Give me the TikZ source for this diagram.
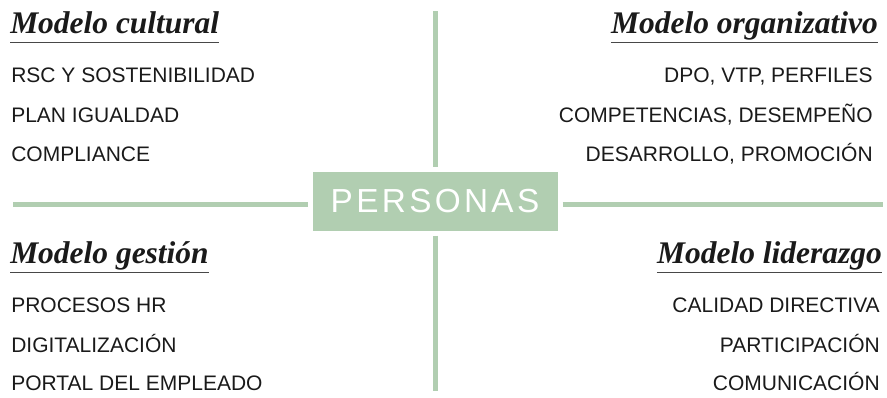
\documentclass[tikz,border=0pt]{standalone}
\usepackage{fontspec}
\setmainfont{Liberation Sans}
\newfontfamily\titlefont{Liberation Serif}
\newfontfamily\boxfont[LetterSpace=10]{Liberation Sans}
\usetikzlibrary{positioning}
\definecolor{salvia}{HTML}{B1CEB1}
\definecolor{tinta}{HTML}{1A1A1A}

\begin{document}
\begin{tikzpicture}[x=0.75pt, y=-0.75pt,
                    titlenode/.style={inner sep=0pt, text=tinta, font=\titlefont\bfseries\itshape\fontsize{23.6pt}{26pt}\selectfont},
                    itemnode/.style={inner sep=0pt, text=tinta, font=\fontsize{15.75pt}{18pt}\selectfont},
                    centernode/.style={rectangle, fill=salvia, text=white, minimum width=183.75pt, minimum height=44.25pt, outer sep=3.75pt, inner sep=0pt, font=\boxfont\fontsize{25pt}{28pt}\selectfont},
                    branch/.style={draw=salvia, line width=3.75pt},
                    underline/.style={draw=tinta!80, line width=1pt}
                ]
                    \useasboundingbox (0,0) rectangle (887,397);
                    \node[centernode] (personas) at (435,201) {PERSONAS};
                    \coordinate (topend) at (435,11);
                    \coordinate (bottomend) at (435,391);
                    \coordinate (leftend) at (13,204);
                    \coordinate (rightend) at (883,204);
                    \draw[branch] (topend) -- (personas.north);
                    \draw[branch] (personas.south) -- (bottomend);
                    \draw[branch] (leftend) -- (leftend -| personas.west);
                    \draw[branch] (personas.east |- rightend) -- (rightend);
                    % cuadrante superior izquierdo
                    \node[titlenode, anchor=base west] (cultural) at (10,33) {Modelo cultural};
                    \draw[underline] ([yshift=-7.3pt]cultural.base west) -- ([yshift=-7.3pt]cultural.base east);
                    \node[itemnode, anchor=base west] (rsc) at (11,82) {RSC Y SOSTENIBILIDAD};
                    \node[itemnode, anchor=base west] (igualdad) at (11,122) {PLAN IGUALDAD};
                    \node[itemnode, anchor=base west] (compliance) at (11,161) {COMPLIANCE};
                    % cuadrante superior derecho
                    \node[titlenode, anchor=base east] (organizativo) at (878,33) {Modelo organizativo};
                    \draw[underline] ([yshift=-7.3pt]organizativo.base west) -- ([yshift=-7.3pt]organizativo.base east);
                    \node[itemnode, anchor=base east] (perfiles) at (873,82) {DPO, VTP, PERFILES};
                    \node[itemnode, anchor=base east] (desempeno) at (873,122) {COMPETENCIAS, DESEMPEÑO};
                    \node[itemnode, anchor=base east] (promocion) at (873,161) {DESARROLLO, PROMOCIÓN};
                    % cuadrante inferior izquierdo
                    \node[titlenode, anchor=base west] (gestion) at (10,263) {Modelo gestión};
                    \draw[underline] ([yshift=-7.3pt]gestion.base west) -- ([yshift=-7.3pt]gestion.base east);
                    \node[itemnode, anchor=base west] (procesos) at (11,312) {PROCESOS HR};
                    \node[itemnode, anchor=base west] (digital) at (11,352) {DIGITALIZACIÓN};
                    \node[itemnode, anchor=base west] (portal) at (11,390) {PORTAL DEL EMPLEADO};
                    % cuadrante inferior derecho
                    \node[titlenode, anchor=base east] (liderazgo) at (882,263) {Modelo liderazgo};
                    \draw[underline] ([yshift=-7.3pt]liderazgo.base west) -- ([yshift=-7.3pt]liderazgo.base east);
                    \node[itemnode, anchor=base east] (calidad) at (880,312) {CALIDAD DIRECTIVA};
                    \node[itemnode, anchor=base east] (participacion) at (880,352) {PARTICIPACIÓN};
                    \node[itemnode, anchor=base east] (comunicacion) at (880,390) {COMUNICACIÓN};
                \end{tikzpicture}
\end{document}
